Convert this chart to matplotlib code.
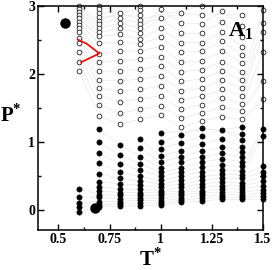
import numpy as np
import matplotlib
matplotlib.use("Agg")
import matplotlib.pyplot as plt
from matplotlib.ticker import MultipleLocator, FixedLocator

matplotlib.rcParams["font.family"] = "Liberation Serif"
matplotlib.rcParams["font.weight"] = "bold"
matplotlib.rcParams["mathtext.fontset"] = "custom"
matplotlib.rcParams["mathtext.rm"] = "Liberation Serif:bold"
matplotlib.rcParams["mathtext.bf"] = "Liberation Serif:bold"

# temperatures of the simulated columns
T_cols = [0.6, 0.7, 0.8, 0.9, 1.0, 1.1, 1.2, 1.3, 1.4, 1.5]

# open circles (upper phase)
p_open = [
    [3.00, 2.96, 2.91, 2.87, 2.82, 2.76, 2.72, 2.68, 2.62, 2.53, 2.46, 2.32, 2.18, 2.04],
    [3.00, 2.95, 2.89, 2.84, 2.78, 2.73, 2.67, 2.61, 2.55, 2.45, 2.29, 2.17, 2.04, 1.91, 1.79, 1.67, 1.54, 1.38],
    [2.90, 2.82, 2.75, 2.67, 2.58, 2.47, 2.33, 2.19, 2.04, 1.90, 1.75, 1.59, 1.42, 1.26],
    [3.00, 2.94, 2.87, 2.80, 2.74, 2.67, 2.60, 2.51, 2.44, 2.34, 2.22, 2.07, 1.92, 1.77, 1.63, 1.48, 1.33],
    [2.95, 2.82, 2.68, 2.54, 2.40, 2.25, 2.12, 1.97, 1.82, 1.68, 1.53, 1.39],
    [2.89, 2.75, 2.60, 2.46, 2.32, 2.17, 2.03, 1.89, 1.75, 1.62, 1.48, 1.35, 1.21],
    [3.00, 2.87, 2.74, 2.60, 2.46, 2.33, 2.19, 2.06, 1.92, 1.79, 1.67, 1.54, 1.42, 1.31],
    [2.92, 2.77, 2.62, 2.48, 2.33, 2.18, 2.04, 1.91, 1.77, 1.64, 1.51, 1.37],
    [2.87, 2.71, 2.54, 2.40, 2.28, 2.16, 2.03, 1.91, 1.79, 1.68, 1.56, 1.45, 1.33],
    [2.94, 2.75, 2.61, 2.32, 1.90, 1.63],
]

# filled circles (lower phase)
p_fill = [
    [0.31, 0.19, 0.10, 0.04, -0.03],
    [1.19, 1.00, 0.83, 0.68, 0.53, 0.41, 0.34, 0.28, 0.22, 0.18, 0.12, 0.07, 0.04],
    [0.95, 0.80, 0.67, 0.55, 0.46, 0.38, 0.31, 0.25, 0.21, 0.16, 0.12, 0.09, 0.05],
    [1.04, 0.91, 0.78, 0.67, 0.58, 0.49, 0.42, 0.36, 0.30, 0.25, 0.21, 0.17, 0.14, 0.10, 0.06],
    [1.13, 1.00, 0.90, 0.79, 0.70, 0.62, 0.55, 0.49, 0.43, 0.38, 0.33, 0.28, 0.25, 0.21, 0.17, 0.13, 0.10, 0.07],
    [1.10, 0.98, 0.87, 0.78, 0.70, 0.62, 0.55, 0.49, 0.43, 0.38, 0.33, 0.28, 0.25, 0.21, 0.17, 0.14, 0.11],
    [1.20, 1.08, 0.97, 0.87, 0.78, 0.70, 0.63, 0.56, 0.49, 0.43, 0.38, 0.33, 0.28, 0.25, 0.21, 0.17, 0.13],
    [1.17, 1.04, 0.93, 0.83, 0.75, 0.66, 0.59, 0.52, 0.47, 0.41, 0.35, 0.30, 0.26, 0.22, 0.18, 0.15],
    [1.21, 1.11, 1.02, 0.93, 0.85, 0.77, 0.70, 0.64, 0.57, 0.51, 0.46, 0.40, 0.35, 0.31, 0.26, 0.22, 0.18, 0.15],
    [1.19, 1.09, 0.64, 0.56, 0.49, 0.42, 0.35, 0.29, 0.25, 0.20, 0.16],
]

# special points and red curve
big_T = [0.53, 0.68]
big_P = [2.75, 0.03]
red_T = [0.60, 0.64, 0.70, 0.61]
red_P = [2.50, 2.44, 2.30, 2.17]

fig = plt.figure(figsize=(2.73, 2.70), dpi=100)
ax = fig.add_axes([0.139, 0.148, 0.824, 0.830])

# faint grey lines joining the k-th point of each column (per phase)
for group in (p_fill, p_open):
    cols = [sorted(c) for c in group]
    nmax = max(len(c) for c in cols)
    for k in range(nmax):
        tt = [T_cols[i] for i, c in enumerate(cols) if len(c) > k]
        pp = [c[k] for c in cols if len(c) > k]
        ax.plot(tt, pp, color="#e8e8e8", lw=0.5, zorder=0)

for t, po, pf in zip(T_cols, p_open, p_fill):
    ax.plot([t] * len(po), po, "o", ms=3.4, mfc="white", mec="#222222",
            mew=0.6, ls="none", clip_on=False, zorder=2)
    ax.plot([t] * len(pf), pf, "o", ms=3.8, mfc="black", mec="black",
            mew=0.4, ls="none", clip_on=False, zorder=2)

ax.plot(red_T, red_P, color="red", lw=1.2, zorder=3)
ax.plot(big_T, big_P, "o", ms=6.5, color="black", ls="none", zorder=4)

ax.set_xlim(0.4, 1.5)
ax.set_ylim(-0.3, 3.0)
ax.xaxis.set_major_locator(FixedLocator([0.5, 0.75, 1.0, 1.25, 1.5]))
ax.set_xticklabels(["0.5", "0.75", "1", "1.25", "1.5"])
ax.xaxis.set_minor_locator(MultipleLocator(0.125))
ax.yaxis.set_major_locator(MultipleLocator(1))
ax.yaxis.set_minor_locator(MultipleLocator(0.5))
ax.tick_params(which="both", direction="in", top=True, right=True,
               labelsize=10, pad=2, width=1)
ax.tick_params(which="major", length=4)
ax.tick_params(which="minor", length=2.5)
for s in ax.spines.values():
    s.set_linewidth(1.1)

ax.set_xlabel(r"$\mathrm{T}^{*}$", fontsize=15, labelpad=1.5)
ax.set_ylabel(r"$\mathrm{P}^{*}$", fontsize=15, rotation=0)
ax.yaxis.set_label_coords(-0.12, 0.46)

ax.text(1.33, 2.63, r"$\mathrm{A}_{\mathrm{1}}$", fontsize=16, ha="left", va="center")

fig.savefig("out.png", dpi=100)
